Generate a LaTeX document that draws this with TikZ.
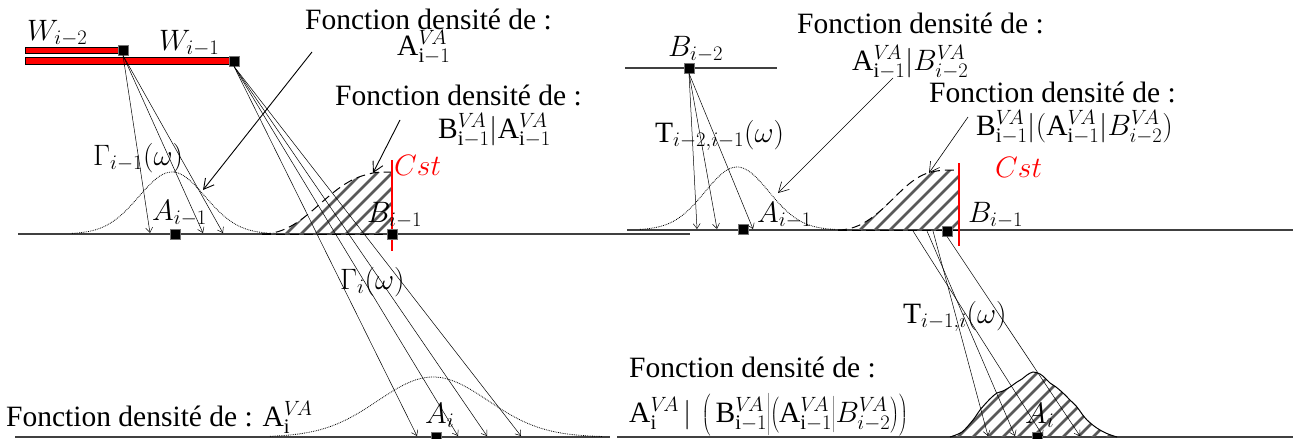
\RequirePackage{fix-cm}
\documentclass[tikz,border=0pt]{standalone}
\usepackage{fontspec}
\setmainfont{Liberation Serif}
\newfontfamily\tnr{Liberation Serif}
\usetikzlibrary{arrows.meta}
\newcommand{\VA}{^{V\!A}}
\newcommand{\tallstrut}{\vrule height 27pt depth 13pt width 0pt}
\newcommand{\midstrut}{\vrule height 24pt depth 11pt width 0pt}
\begin{document}
\begin{tikzpicture}[x=1pt,y=-1pt,
  txt/.style={font=\tnr\fontsize{29.5}{34}\selectfont, inner sep=0pt, anchor=base west},
  sq/.style={draw=black!55, fill=black, minimum size=10pt, inner sep=0pt, line width=0.8pt},
  ray/.style={line width=0.5pt, -{Straight Barb[length=5pt,width=7pt]}},
  note/.style={line width=0.9pt, -{Straight Barb[length=10pt,width=11pt]}},
  baseln/.style={line width=1.4pt, black!75},
  hatchln/.style={line width=2.6pt, black!65},
  outl/.style={line width=1pt, dash pattern=on 9pt off 5pt},
  gauss/.style={line width=0.8pt, densely dotted},
  bar/.style={fill=red, draw=black, line width=0.5pt},
  cstline/.style={red, line width=1.2pt}]
\useasboundingbox (0,0) rectangle (1293,439);

% ---------- baselines ----------
\coordinate (L1a) at (18,234);  \coordinate (L1b) at (690,234);
\coordinate (R1a) at (627,230); \coordinate (R1b) at (1293,230);
\coordinate (L2a) at (15,437);  \coordinate (L2b) at (610,437);
\coordinate (R2a) at (617,437); \coordinate (R2b) at (1293,437);
\coordinate (Ba) at (625,68);   \coordinate (Bb) at (777,68);
\draw[baseln] (L1a) -- (L1b);
\draw[baseln] (R1a) -- (R1b);
\draw[baseln] (L2a) -- (L2b);
\draw[baseln] (R2a) -- (R2b);
\draw[baseln] (Ba) -- (Bb);

% ---------- hatched shapes ----------
\begin{scope}
  \clip (262,234) .. controls (305,234) and (325,186) .. (365,175) .. controls (376,172) .. (392,172) -- (392,234) -- cycle;
  \foreach \k in {0,...,14} \draw[hatchln] (\k*15+240,250) -- ++(110,-110);
\end{scope}
\draw[outl] (262,234) .. controls (305,234) and (325,186) .. (365,175) .. controls (376,172) .. (392,172);
\draw[outl] (262,234) -- (392,234);

\begin{scope}
  \clip (838,230) .. controls (878,230) and (898,182) .. (928,173) .. controls (940,170) .. (959,170) -- (959,230) -- cycle;
  \foreach \k in {0,...,14} \draw[hatchln] (\k*15+810,250) -- ++(110,-110);
\end{scope}
\draw[outl] (838,230) .. controls (878,230) and (898,182) .. (928,173) .. controls (940,170) .. (959,170);
\draw[outl] (838,230) -- (959,230);

\def\mound{(950,437) (962,432) (973,420) (980,410) (987,402) (992,397) (997,393) (1003,391) (1010,387) (1017,382) (1022,379) (1027,375) (1033,372) (1040,374) (1045,378) (1050,383) (1056,387) (1063,393) (1070,400) (1077,407) (1082,414) (1087,420) (1094,426) (1100,430) (1108,434) (1117,437)}
\begin{scope}
  \clip plot[smooth] coordinates {\mound} -- cycle;
  \foreach \k in {0,...,16} \draw[hatchln] (\k*15+900,450) -- ++(100,-100);
\end{scope}
\draw[line width=1pt] plot[smooth] coordinates {\mound};

% ---------- gaussians ----------
\draw[gauss] plot[domain=72:268, samples=80] (\x,{234-62*exp(-((\x-172)/33)^2/2)});
\draw[gauss] plot[domain=640:835, samples=80] (\x,{230-63*exp(-((\x-737)/32)^2/2)});
\draw[gauss] plot[domain=270:602, samples=100] (\x,{437-60*exp(-((\x-433)/55)^2/2)});

% ---------- red bars ----------
\draw[bar] (25,47) rectangle (120,53);
\draw[bar] (25,57) rectangle (231,64);

% ---------- squares ----------
\node[sq] (W2) at (123,50) {};
\node[sq] (W1) at (234,61) {};
\node[sq] (A1) at (175,234) {};
\node[sq] (B2) at (689,68) {};
\node[sq] (A1r) at (743,229) {};
\node[sq] (B1r) at (947,231) {};
\node[sq] (Ai) at (436,437) {};
\node[sq] (Air) at (1037,437) {};

% ---------- red constant lines ----------
\coordinate (C1a) at (392,160); \coordinate (C1b) at (392,251);
\coordinate (C2a) at (959,163); \coordinate (C2b) at (959,246);
\draw[cstline] (C1a) -- (C1b);
\draw[cstline] (C2a) -- (C2b);
\node[sq] (B1) at (392,234) {};

% ---------- rays ----------
\coordinate (r1) at (150,233); \coordinate (r2) at (203,233); \coordinate (r3) at (223,233);
\foreach \e in {r1,r2,r3} \draw[ray] (W2.south) -- (\e);
\coordinate (s1) at (417,436); \coordinate (s2) at (458,436); \coordinate (s3) at (487,436); \coordinate (s4) at (521,436);
\foreach \e in {s1,s2,s3,s4} \draw[ray] (W1.south) -- (\e);
\coordinate (t1) at (697,229); \coordinate (t2) at (717,229); \coordinate (t3) at (753,229);
\foreach \e in {t1,t2,t3} \draw[ray] (B2.south) -- (\e);
\coordinate (u1) at (913,231); \coordinate (u2) at (927,231); \coordinate (u3) at (933,231);
\coordinate (v1) at (1043,436); \coordinate (v2) at (1015,436); \coordinate (v3) at (988,436); \coordinate (v4) at (1080,436);
\draw[ray] (u1) -- (v1);
\draw[ray] (u2) -- (v2);
\draw[ray] (u3) -- (v3);
\draw[ray] (B1r.south) -- (v4);

% ---------- labels ----------
\node[txt] (lW2) at (27,40) {$W_{i-2}$};
\node[txt] (lW1) at (159,50) {$W_{i-1}$};
\node[txt] (lG1) at (93,165) {$\Gamma_{i-1}(\omega)$};
\node[txt] (lA1) at (152,220) {$A_{i-1}$};
\node[txt] (lB1) at (367,222) {$B_{i-1}$};
\node[txt, red] (lC1) at (394,175) {$Cst$};
\node[txt] (f1) at (305,29) {Fonction densité de :};
\node[txt] (f1b) at (397,55) {$\mathrm{A}\VA_{\mathrm{i}-1}$};
\node[txt] (f2) at (335,105) {Fonction densité de :};
\node[txt] (f2b) at (438,138) {$\mathrm{B}\VA_{\mathrm{i}-1}|\mathrm{A}\VA_{\mathrm{i}-1}$};
\node[txt] (lGi) at (340,289) {$\Gamma_i(\omega)$};
\node[txt] (f3) at (6,426) {Fonction densité de : $\mathrm{A}\VA_{\mathrm{i}}$};
\node[txt] (lAi) at (425,423) {$A_i$};

\node[txt] (lB2) at (668,56) {$B_{i-2}$};
\node[txt] (lT1) at (655,142) {$\mathrm{T}_{i-2,i-1}(\omega)$};
\node[txt] (lA1r) at (757,222) {$A_{i-1}$};
\node[txt] (f4) at (797,33) {Fonction densité de :};
\node[txt] (f4b) at (852,70) {$\mathrm{A}\VA_{\mathrm{i}-1}|B\VA_{i-2}$};
\node[txt] (f5) at (929,102) {Fonction densité de :};
\node[txt] (f5b) at (976,135) {$\mathrm{B}\VA_{\mathrm{i}-1}|(\mathrm{A}\VA_{\mathrm{i}-1}|B\VA_{i-2})$};
\node[txt, red] (lC2) at (995,177) {$Cst$};
\node[txt] (lB1r) at (968,222) {$B_{i-1}$};
\node[txt] (lT2) at (903,323) {$\mathrm{T}_{i-1,i}(\omega)$};
\node[txt] (f6) at (629,377) {Fonction densité de :};
\node[txt] (f6b) at (629,422) {$\mathrm{A}\VA_{\mathrm{i}}\,|\,\left(\tallstrut\,\mathrm{B}\VA_{\mathrm{i}-1}\middle|\left(\midstrut\mathrm{A}\VA_{\mathrm{i}-1}\middle|B\VA_{i-2}\right)\right)$};
\node[txt] (lAir) at (1025,423) {$A_i$};

% ---------- annotation arrows ----------
\coordinate (n1s) at (312,52);  \coordinate (n1e) at (203,190);
\coordinate (n2s) at (400,120); \coordinate (n2e) at (373,173);
\coordinate (n3s) at (893,78);  \coordinate (n3e) at (778,193);
\coordinate (n4s) at (968,117); \coordinate (n4e) at (929,173);
\draw[note] (n1s) -- (n1e);
\draw[note] (n2s) -- (n2e);
\draw[note, line width=0.6pt] (n3s) -- (n3e);
\draw[note, line width=0.6pt] (n4s) -- (n4e);
\end{tikzpicture}
\end{document}
